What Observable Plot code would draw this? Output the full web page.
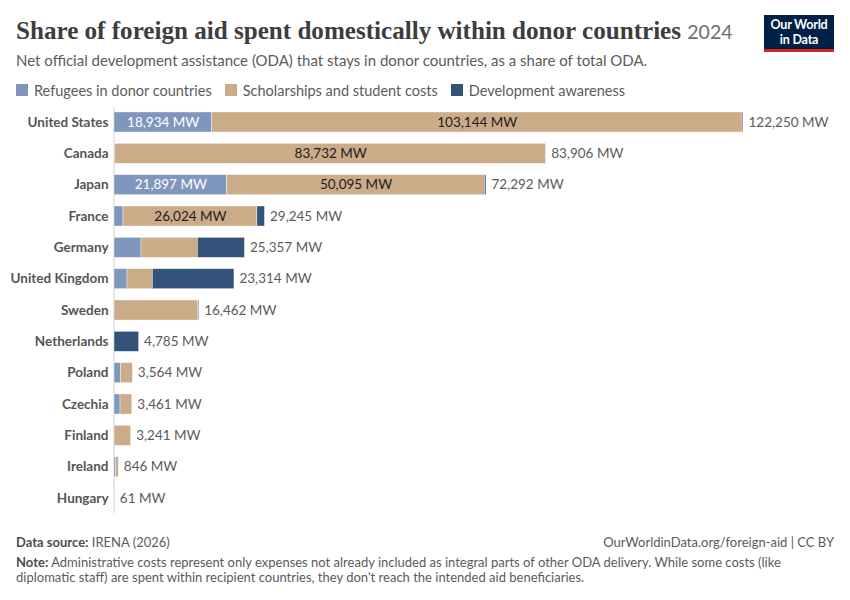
<!DOCTYPE html>
<html><head><meta charset="utf-8">
<script src="https://cdn.jsdelivr.net/npm/d3@7"></script>
<script src="https://cdn.jsdelivr.net/npm/@observablehq/plot@0.6"></script>
<style>
body{margin:0;background:#fff;font-family:Lato,sans-serif;}
#wrap{position:relative;width:850px;height:600px;overflow:hidden;background:#fff;}
#title{position:absolute;left:16px;top:18px;font-family:"Liberation Serif",serif;font-weight:700;font-size:25.1px;color:#3d3d3d;line-height:26px;white-space:nowrap;}
#title .yr{font-family:Lato,sans-serif;font-weight:400;font-size:19.5px;color:#6e6e6e;}
#subtitle{position:absolute;left:16px;top:51px;font-size:15px;line-height:18px;color:#5b5b5b;white-space:nowrap;}
#legend{position:absolute;left:16px;top:81px;height:18px;display:flex;align-items:center;font-size:14.5px;color:#5b5b5b;white-space:nowrap;}
#legend .sw{width:12px;height:12px;margin-right:6px;}
#legend .it{display:flex;align-items:center;margin-right:13px;}
#logo{position:absolute;left:764px;top:15px;width:70px;height:37px;background:#002147;border-bottom:3px solid #ce261e;box-sizing:border-box;color:#fff;font-weight:700;font-size:12.5px;line-height:15px;text-align:center;padding-top:2px;letter-spacing:-0.2px;}
#chart{position:absolute;left:0;top:100px;}
#source{position:absolute;left:16px;top:534px;font-size:13px;line-height:16px;color:#5b5b5b;}
#source b,#note b{font-weight:700;color:#4e4e4e;}
#url{position:absolute;right:16px;top:534px;font-size:13px;line-height:16px;color:#5b5b5b;}
#note{position:absolute;left:16px;top:555px;font-size:13px;line-height:15px;color:#5b5b5b;}
</style></head><body>
<div id="wrap">
  <div id="title">Share of foreign aid spent domestically within donor countries <span class="yr">2024</span></div>
  <div id="subtitle">Net official development assistance (ODA) that stays in donor countries, as a share of total ODA.</div>
  <div id="legend"></div>
  <div id="logo">Our World<br>in Data</div>
  <div id="chart"></div>
  <div id="source"><b>Data source:</b> IRENA (2026)</div>
  <div id="url">OurWorldinData.org/foreign-aid | CC BY</div>
  <div id="note"><b>Note:</b> Administrative costs represent only expenses not already included as integral parts of other ODA delivery. While some costs (like<br>diplomatic staff) are spent within recipient countries, they don't reach the intended aid beneficiaries.</div>
</div>
<script>
const countries = ["United States","Canada","Japan","France","Germany","United Kingdom","Sweden","Netherlands","Poland","Czechia","Finland","Ireland","Hungary"];
const refugees     = [18934,   150, 21897,  1750,  5250,  2530,     0,    0, 1230, 1170,    0, 250,  0];
const scholarships = [103144, 83732, 50095, 26024, 10950,  4920, 16300,    0, 2334, 2291, 3241, 596, 61];
const awareness    = [172,      24,   300,  1471,  9157, 15864,   162, 4785,    0,    0,    0,   0,  0];
const totals       = [122250, 83906, 72292, 29245, 25357, 23314, 16462, 4785, 3564, 3461, 3241, 846, 61];
const components = ["Refugees in donor countries","Scholarships and student costs","Development awareness"];
const colors = ["#8097bd","#cbab88","#34537a"];

// legend
const leg = document.getElementById("legend");
components.forEach((c,i)=>{
  const it = document.createElement("div"); it.className="it";
  const sw = document.createElement("div"); sw.className="sw"; sw.style.background=colors[i];
  const tx = document.createElement("span"); tx.textContent=c;
  it.appendChild(sw); it.appendChild(tx); leg.appendChild(it);
});

const series = [refugees, scholarships, awareness];
const rows = [];
countries.forEach((c,i)=>series.forEach((arr,k)=>rows.push({country:c, component:components[k], value:arr[i]})));
const totalRows = countries.map((c,i)=>({country:c, total:totals[i]}));
const fmt = d3.format(",");
const stackOpts = {x:"value", y:"country", z:"component", order:components};

const plot = Plot.plot({
  width:850, height:420,
  marginLeft:114, marginRight:107, marginTop:7, marginBottom:7,
  x:{domain:[0, d3.max(totals)], axis:null},
  y:{domain:countries, range:[0.7,419.3], padding:0.36, round:false, axis:null},
  color:{domain:components, range:colors},
  style:{fontFamily:"Lato, sans-serif", fontSize:"14px", background:"white", overflow:"visible"},
  marks:[
    Plot.ruleX([0], {stroke:"#d0d0d0", dx:-0.5}),
    Plot.barX(rows, Plot.stackX({...stackOpts, fill:"component", stroke:"white", strokeWidth:0.4})),
    Plot.text(rows, Plot.filter(d=>d.component===components[0] && d.value>=18000,
      Plot.stackX({...stackOpts, text:d=>fmt(d.value)+" MW", fill:"white", fontSize:13.5}))),
    Plot.text(rows, Plot.filter(d=>d.component===components[1] && d.value>=18000,
      Plot.stackX({...stackOpts, text:d=>fmt(d.value)+" MW", fill:"#1d1d1d", fontSize:13.5}))),
    Plot.text(totalRows, {x:"total", y:"country", text:d=>fmt(d.total)+" MW", textAnchor:"start", dx:5, fill:"#5b5b5b", fontSize:13.5}),
    Plot.axisY({tickSize:0, tickPadding:6, fontSize:13.5, fontWeight:"bold", fill:"#555", label:null})
  ]
});
document.getElementById("chart").appendChild(plot);
</script>
</body></html>
